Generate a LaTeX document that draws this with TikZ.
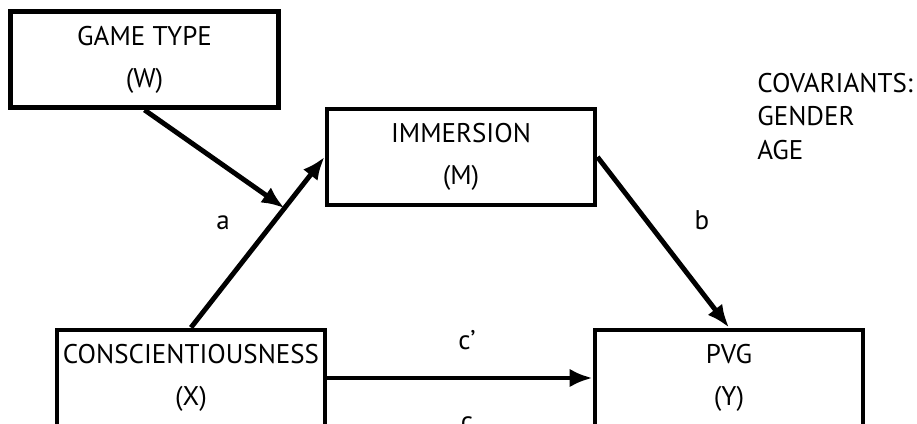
\documentclass[tikz,border=0pt]{standalone}
\usepackage{fontspec}
\setmainfont{PT Sans}
\usepackage{tikz}
\usetikzlibrary{positioning, arrows.meta}

\begin{document}
\begin{tikzpicture}[
    var_box/.style={rectangle, draw=black, fill=white, line width=3.5pt, minimum width=6.7cm, minimum height=2.4cm, align=center, font=\fontsize{19.2}{30}\selectfont},
    path_arrow/.style={draw=black, line width=3.5pt, -{Latex[length=0.57cm, width=0.46cm]}},
    coef_label/.style={anchor=base, inner sep=0pt, font=\fontsize{19.2}{22}\selectfont}
]

\useasboundingbox (0,0) rectangle (22.925,10.6);

% Variable boxes
\node[var_box] (game) at (3.6125,9.1125) {GAME TYPE\\(W)};
\node[var_box] (imm) at (11.525,6.675) {IMMERSION\\(M)};
\node[var_box] (consc) at (4.775,1.15) {CONSCIENTIOUSNESS\\(X)};
\node[var_box] (pvg) at (18.225,1.15) {PVG\\(Y)};

% Covariants list
\node[anchor=north west, inner sep=0pt, align=left, font=\fontsize{19.2}{23.8}\selectfont] (covar) at (18.925,8.775) {COVARIANTS:\\GENDER\\AGE};

% Paths between the variables
\draw[path_arrow] (consc.north) -- coordinate[pos=0.7] (a_mid) (imm.west);
\draw[path_arrow] (game.south) -- (a_mid);
\draw[path_arrow] (imm.east) -- (pvg.north);
\draw[path_arrow] (consc.east) -- (pvg.west);

% Path labels
\node[coef_label] (lab_a) at (5.575,4.85) {a};
\node[coef_label] (lab_b) at (17.55,4.85) {b};
\node[coef_label] (lab_cp) at (11.675,1.85) {c’};
\node[coef_label] (lab_c) at (11.675,-0.16) {c};

\end{tikzpicture}
\end{document}
